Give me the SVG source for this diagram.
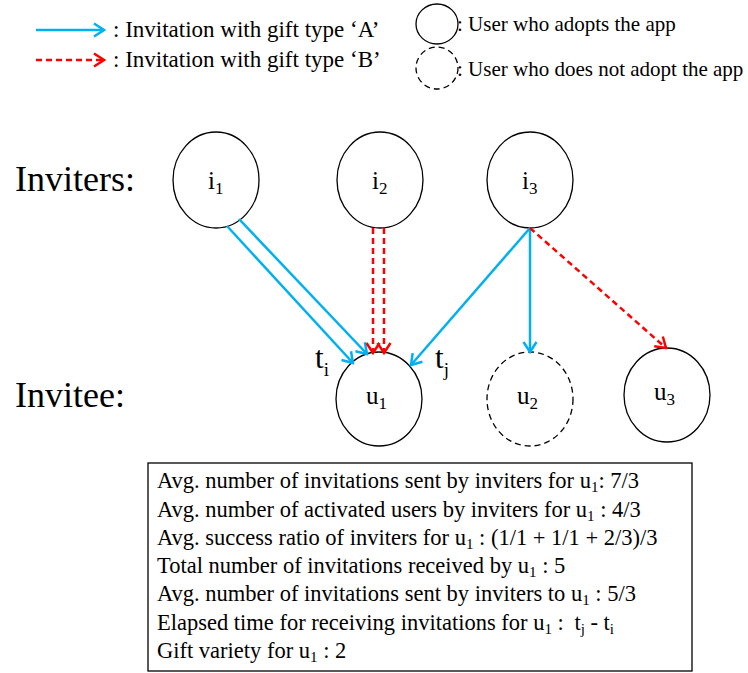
<svg xmlns="http://www.w3.org/2000/svg" width="748" height="673" viewBox="0 0 748 673">
<style>
text{font-family:"Liberation Serif","Times New Roman",serif;fill:#000}
.node{fill:#fff;stroke:#000;stroke-width:1.3}
.dash{stroke-dasharray:6,4}
.a{stroke:#00B0F0;stroke-width:2.5;fill:none;marker-end:url(#mA)}
.b{stroke:#FF0000;stroke-width:2.5;fill:none;stroke-dasharray:6,4;marker-end:url(#mB)}
.lbl{font-size:23px}
.leg2{font-size:21px}
.nl{font-size:25px}
.ns{font-size:17px}
.big{font-size:36px}
.box{font-size:22.5px}
.sub{font-size:15px}
</style>
<defs>
<marker id="mA" markerUnits="userSpaceOnUse" viewBox="-12 -8 14 16" refX="0" refY="0" markerWidth="14" markerHeight="16" orient="auto">
<path d="M-10,-6.5 L0,0 L-10,6.5" fill="none" stroke="#00B0F0" stroke-width="2.5"/>
</marker>
<marker id="mB" markerUnits="userSpaceOnUse" viewBox="-12 -8 14 16" refX="0" refY="0" markerWidth="14" markerHeight="16" orient="auto">
<path d="M-10,-6.5 L0,0 L-10,6.5" fill="none" stroke="#FF0000" stroke-width="2.5"/>
</marker>
</defs>
<rect width="748" height="673" fill="#fff"/>
<g id="legend">
<line class="a" x1="36" y1="30" x2="104" y2="30"/>
<text class="lbl" x="113" y="37">: Invitation with gift type ‘A’</text>
<line class="b" x1="36" y1="60" x2="104" y2="60"/>
<text class="lbl" x="113" y="67">: Invitation with gift type ‘B’</text>
<ellipse class="node" cx="437" cy="24" rx="21" ry="20"/>
<text class="leg2" x="457" y="31">: User who adopts the app</text>
<ellipse class="node dash" cx="437" cy="68" rx="21" ry="21"/>
<text class="leg2" x="457" y="76">: User who does not adopt the app</text>
</g>
<text class="big" x="15" y="191">Inviters:</text>
<text class="big" x="15" y="407">Invitee:</text>
<g id="i1"><ellipse class="node" cx="216" cy="180" rx="43" ry="48"/><text class="nl" x="208" y="189">i<tspan class="ns" dy="5">1</tspan></text></g>
<g id="i2"><ellipse class="node" cx="380" cy="180" rx="43" ry="48"/><text class="nl" x="372" y="189">i<tspan class="ns" dy="5">2</tspan></text></g>
<g id="i3"><ellipse class="node" cx="530" cy="180" rx="43" ry="48"/><text class="nl" x="522" y="189">i<tspan class="ns" dy="5">3</tspan></text></g>
<g id="u1"><ellipse class="node" cx="379" cy="399" rx="43" ry="47"/><text class="nl" x="366" y="404">u<tspan class="ns" dy="5">1</tspan></text></g>
<g id="u2"><ellipse class="node dash" cx="530" cy="399" rx="43" ry="47"/><text class="nl" x="517" y="404">u<tspan class="ns" dy="5">2</tspan></text></g>
<g id="u3"><ellipse class="node" cx="667" cy="395" rx="43" ry="47"/><text class="nl" x="654" y="400">u<tspan class="ns" dy="5">3</tspan></text></g>
<g id="connectors">
<line class="a" x1="227" y1="226" x2="353" y2="363"/>
<line class="a" x1="239" y1="219" x2="367" y2="354"/>
<line class="b" x1="373" y1="228" x2="373" y2="353"/>
<line class="b" x1="384" y1="228" x2="384" y2="353"/>
<line class="a" x1="530" y1="228" x2="411" y2="365"/>
<line class="a" x1="530" y1="228" x2="530" y2="352"/>
<line class="b" x1="530" y1="228" x2="666" y2="348"/>
</g>
<text x="315" y="368" font-size="31">t<tspan font-size="19" dy="8">i</tspan></text>
<text x="435" y="368" font-size="31">t<tspan font-size="19" dy="8">j</tspan></text>
<g id="infobox">
<rect x="148" y="463" width="544" height="208" fill="#fff" stroke="#000" stroke-width="1.3"/>
<text class="box" x="157" y="488">Avg. number of invitations sent by inviters for u<tspan class="sub" dy="4">1</tspan><tspan dy="-4">: 7/3</tspan></text>
<text class="box" x="157" y="516.5">Avg. number of activated users by inviters for u<tspan class="sub" dy="4">1</tspan><tspan dy="-4"> : 4/3</tspan></text>
<text class="box" x="157" y="545">Avg. success ratio of inviters for u<tspan class="sub" dy="4">1</tspan><tspan dy="-4"> : (1/1 + 1/1 + 2/3)/3</tspan></text>
<text class="box" x="157" y="573">Total number of invitations received by u<tspan class="sub" dy="4">1</tspan><tspan dy="-4"> : 5</tspan></text>
<text class="box" x="157" y="601">Avg. number of invitations sent by inviters to u<tspan class="sub" dy="4">1</tspan><tspan dy="-4"> : 5/3</tspan></text>
<text class="box" x="157" y="630">Elapsed time for receiving invitations for u<tspan class="sub" dy="4">1</tspan><tspan dy="-4"> : </tspan><tspan dx="5">t</tspan><tspan class="sub" dy="4">j</tspan><tspan dy="-4"> - t</tspan><tspan class="sub" dy="4">i</tspan></text>
<text class="box" x="157" y="658">Gift variety for u<tspan class="sub" dy="4">1</tspan><tspan dy="-4"> : 2</tspan></text>
</g>
</svg>
